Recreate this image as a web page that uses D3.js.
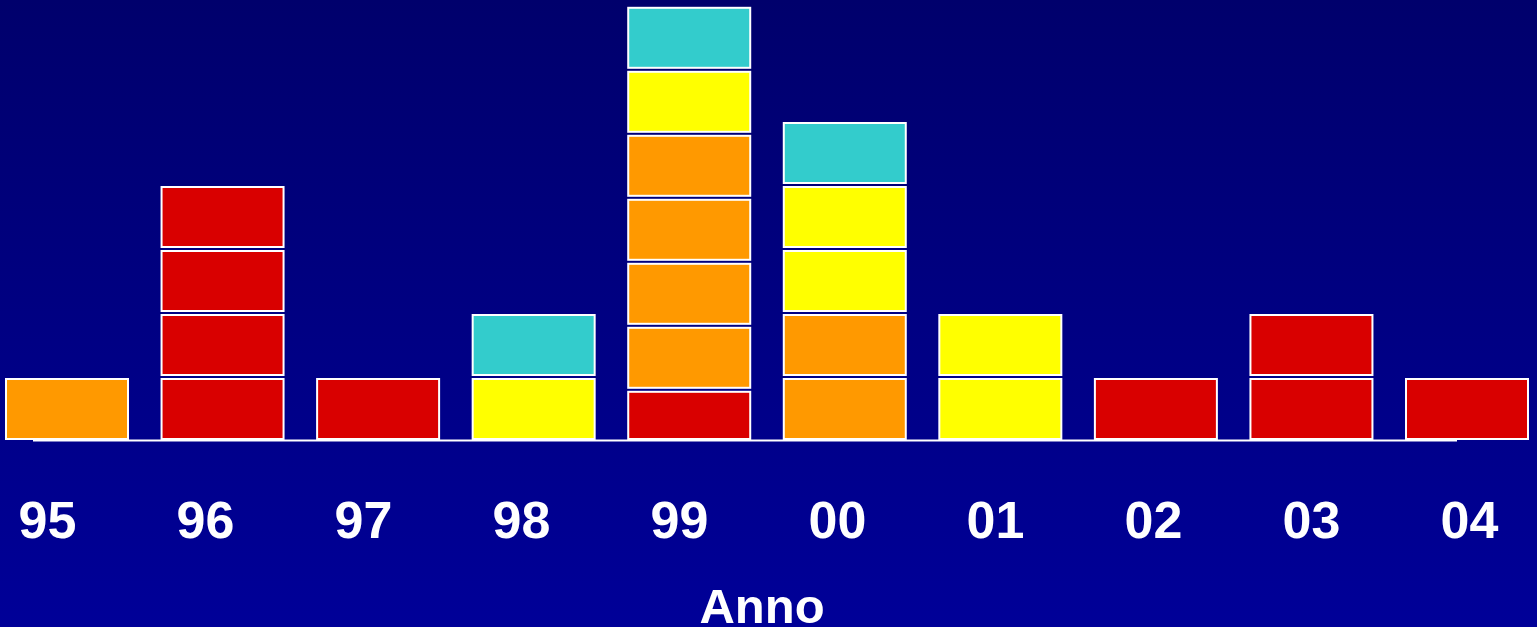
<!DOCTYPE html>
<html>
<head>
<meta charset="utf-8">
<script src="https://cdn.jsdelivr.net/npm/d3@7"></script>
<style>
  html, body { margin: 0; padding: 0; overflow: hidden; background: #000080; }
  svg { display: block; }
</style>
</head>
<body>
<svg id="chart" width="1537" height="627"></svg>
<script>
// Years on the axis
const years = ["95", "96", "97", "98", "99", "00", "01", "02", "03", "04"];

// Stacked blocks per year, bottom to top: category of each block
const stacks = [
  ["O"],
  ["R", "R", "R", "R"],
  ["R"],
  ["Y", "C"],
  ["R", "O", "O", "O", "O", "Y", "C"],
  ["O", "O", "Y", "Y", "C"],
  ["Y", "Y"],
  ["R"],
  ["R", "R"],
  ["R"]
];

// Size of each block (one unit each, except the short bottom block in 99)
const sizes = [
  [1],
  [1, 1, 1, 1],
  [1],
  [1, 1],
  [0.8, 1, 1, 1, 1, 1, 1],
  [1, 1, 1, 1, 1],
  [1, 1],
  [1],
  [1, 1],
  [1]
];

const categories = ["R", "O", "Y", "C"];
const categoryColors = ["#D90000", "#FF9900", "#FFFF00", "#33CCCC"];

const axisTitle = "Anno";

const W = 1537, H = 627;
const svg = d3.select("#chart");

// Background gradient
const defs = svg.append("defs");
const grad = defs.append("linearGradient")
  .attr("id", "bg").attr("x1", 0).attr("y1", 0).attr("x2", 0).attr("y2", 1);
grad.append("stop").attr("offset", "0%").attr("stop-color", "#00006C");
grad.append("stop").attr("offset", "100%").attr("stop-color", "#000098");
svg.append("rect").attr("width", W).attr("height", H).attr("fill", "url(#bg)");

const color = d3.scaleOrdinal().domain(categories).range(categoryColors);

// Scales: block columns, tick label positions, and stacked units
const xBox = d3.scalePoint().domain(years).range([67, 1467]);
const xLabel = d3.scalePoint().domain(years).range([47, 1469]);
const y = d3.scaleLinear().domain([0, 7]).range([441, 441 - 7 * 64]);

const boxWidth = 122;
const gap = 2;

// Build block records with cumulative offsets
const blocks = [];
years.forEach((yr, i) => {
  let base = 0;
  stacks[i].forEach((cat, j) => {
    const v = sizes[i][j];
    blocks.push({ year: yr, cat, y0: base, y1: base + v });
    base += v;
  });
});

// Baseline
svg.append("line")
  .attr("x1", 33).attr("x2", 1457)
  .attr("y1", 440.5).attr("y2", 440.5)
  .attr("stroke", "#FFFFFF").attr("stroke-width", 2);

// Blocks
svg.append("g").selectAll("rect")
  .data(blocks)
  .join("rect")
  .attr("x", d => xBox(d.year) - boxWidth / 2)
  .attr("y", d => y(d.y1) + gap)
  .attr("width", boxWidth)
  .attr("height", d => y(d.y0) - y(d.y1) - 2 * gap)
  .attr("fill", d => color(d.cat))
  .attr("stroke", "#FFFFFF")
  .attr("stroke-width", 2);

// Year labels
const axis = d3.axisBottom(xLabel).tickSize(0).tickPadding(0);
const axisG = svg.append("g")
  .attr("transform", "translate(0,538)")
  .call(axis);
axisG.select(".domain").remove();
axisG.selectAll("text")
  .attr("dy", 0)
  .attr("y", 0)
  .attr("fill", "#FFFFFF")
  .style("font-family", "'Liberation Sans', Arial, sans-serif")
  .style("font-weight", "bold")
  .style("font-size", "52px");

// Axis title
svg.append("text")
  .attr("x", 762).attr("y", 623)
  .attr("text-anchor", "middle")
  .attr("fill", "#FFFFFF")
  .style("font-family", "'Liberation Sans', Arial, sans-serif")
  .style("font-weight", "bold")
  .style("font-size", "49px")
  .text(axisTitle);
</script>
</body>
</html>
